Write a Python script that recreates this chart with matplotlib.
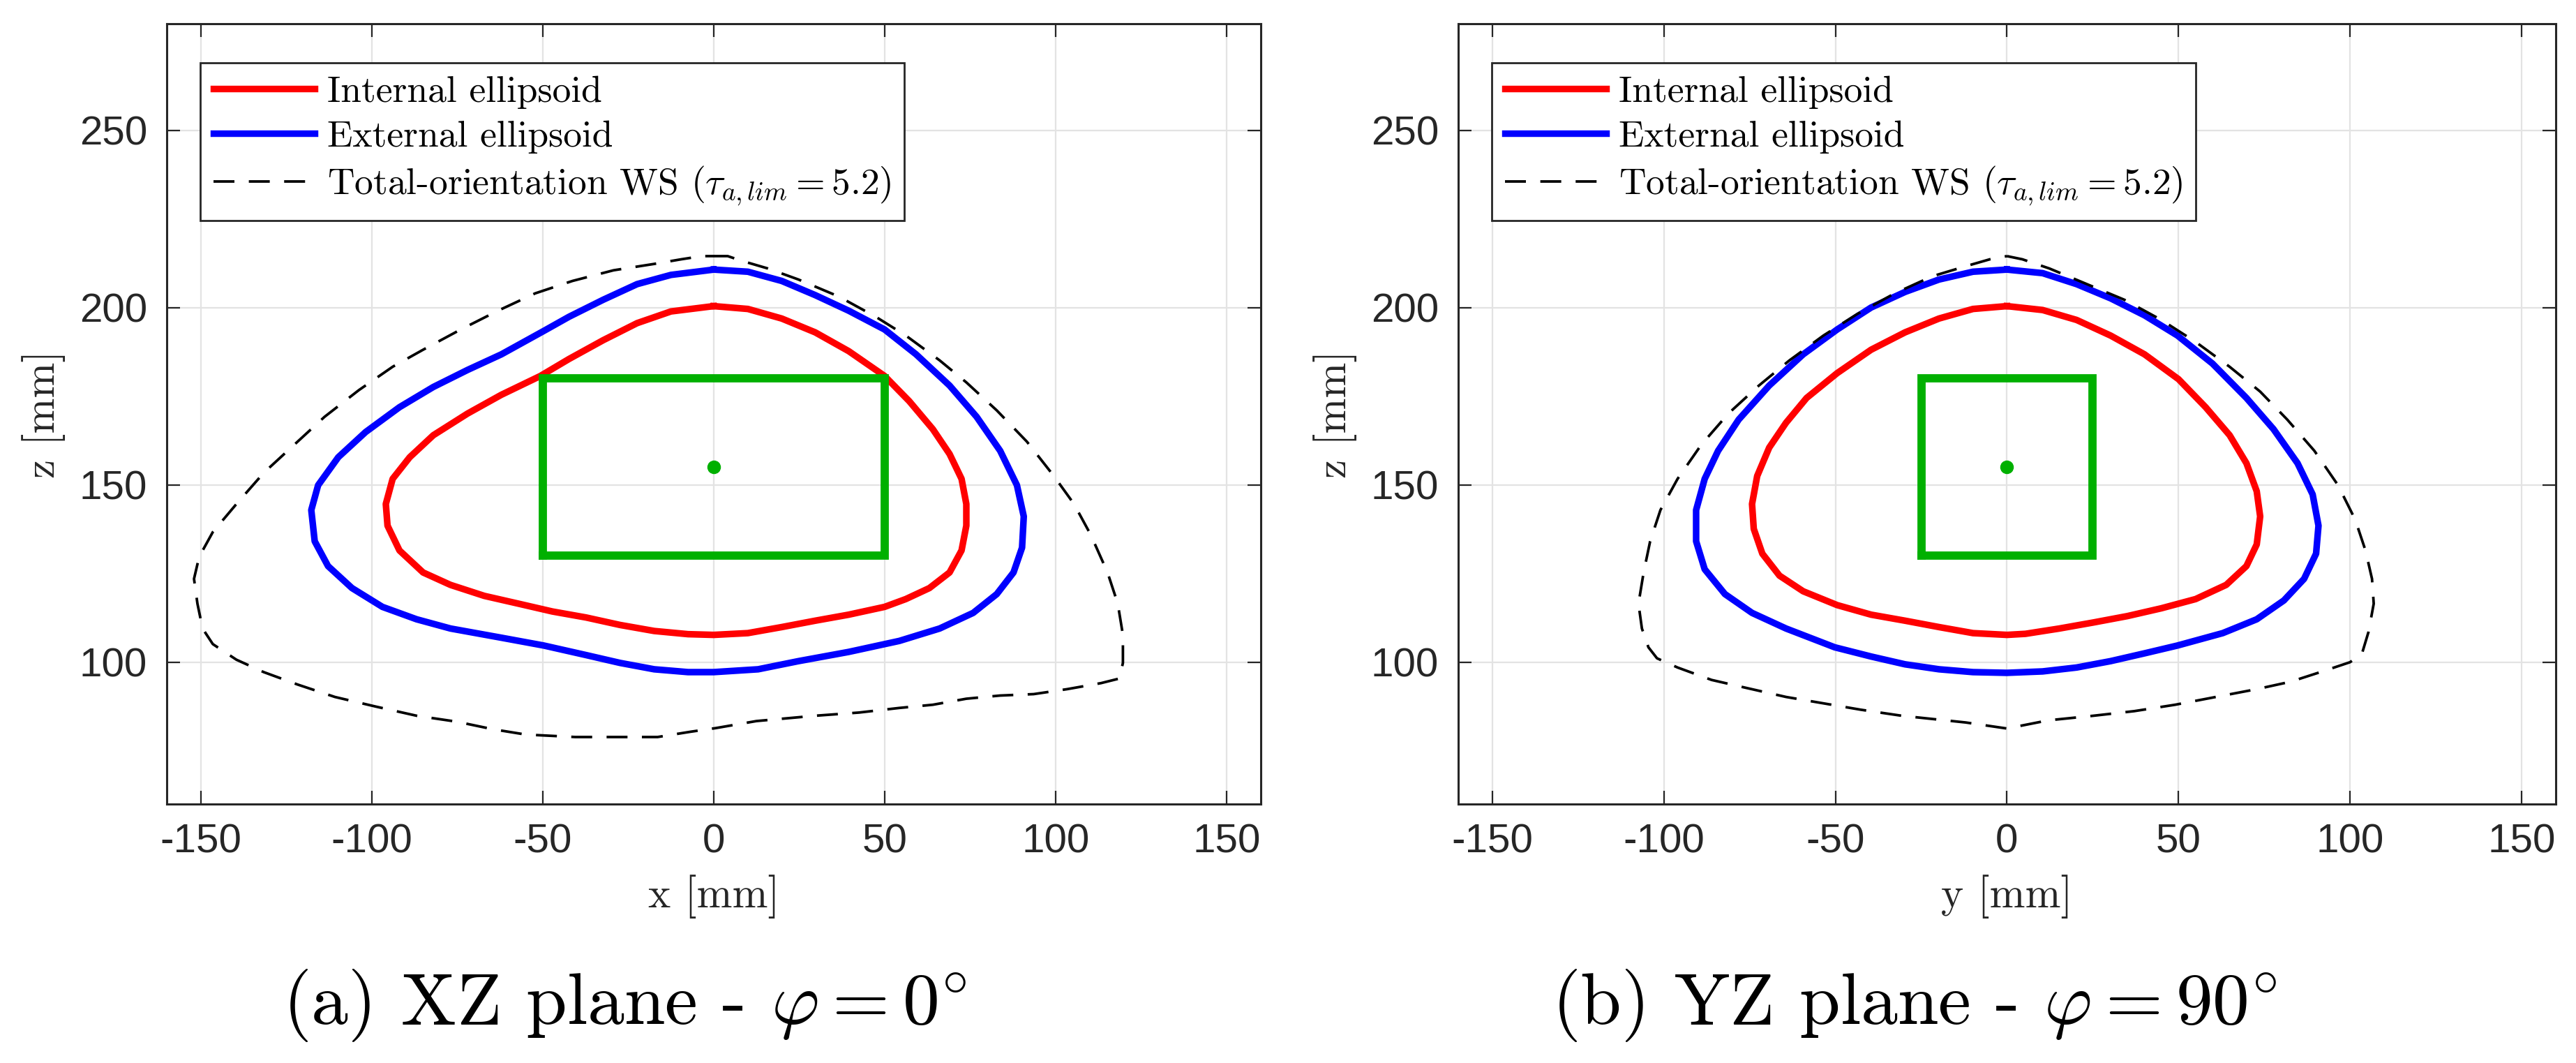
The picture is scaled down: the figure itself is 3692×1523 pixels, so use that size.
import matplotlib
matplotlib.use("Agg")
import matplotlib.pyplot as plt

plt.rcParams["mathtext.fontset"] = "cm"
plt.rcParams["axes.unicode_minus"] = False

# ---- data (mm), each contour traced clockwise from the top ----
# XZ plane, phi = 0 deg
xz_int_x = [0, 10, 19.9, 29.7, 39.5, 50, 57.2, 64.1, 69, 72.5, 73.9, 73.9, 72.5, 69, 63.1, 56.2, 50,
            39.5, 29.7, 19.9, 10, 0, -7.5, -17.4, -27.4, -37.3, -47.2, -57.1, -67.1, -77, -85, -91.9,
            -95.4, -95.9, -93.9, -88.9, -82, -72, -62.1, -50.7, -42.3, -32.3, -22.4, -12.5, 0]
xz_int_z = [200.4, 199.6, 196.9, 193, 187.7, 180.7, 173.6, 165.7, 158.7, 151.7, 144.6, 138.5, 131.5,
            125.3, 120.9, 117.8, 115.6, 113.4, 111.7, 109.9, 108.2, 107.7, 107.9, 108.8, 110.5, 112.6,
            114.3, 116.5, 118.7, 121.8, 125.3, 131.5, 138.5, 144.6, 151.7, 157.8, 164, 170.1, 175.4,
            180.7, 185.5, 190.8, 195.6, 198.9, 200.4]

xz_ext_x = [0, 10, 19.9, 29.7, 39.5, 50, 59.2, 69, 76.9, 83.8, 88.7, 90.7, 90.2, 87.7, 82.8, 75.9, 66.1,
            54.3, 39.5, 24.8, 13, 0, -7.5, -17.4, -27.4, -37.3, -49.7, -62.1, -77, -86.9, -96.9, -105.8,
            -112.8, -116.7, -117.7, -115.7, -109.8, -101.8, -91.9, -82, -72, -62.1, -49.7, -42.3,
            -32.3, -22.4, -12.5, 0]
xz_ext_z = [210.7, 210.1, 207.5, 203.5, 199.1, 193.8, 186.8, 178, 169.2, 159.6, 149.9, 141.1, 132.3,
            125.3, 119.2, 113.9, 109.5, 106, 102.9, 100.3, 98, 97.2, 97.2, 98, 99.8, 102, 104.7, 106.9,
            109.5, 112.1, 115.6, 120.9, 127.1, 134.1, 142.9, 149.9, 157.8, 164.9, 171.9, 177.6, 182.4,
            186.8, 193.4, 197.4, 202.2, 206.6, 209.2, 210.7]

xz_ws_x = [0, 4.1, 8.1, 15.9, 24.8, 36.6, 47.4, 56.2, 66.1, 73.9, 82.8, 91.6, 99.5, 105.4, 110.3,
           115.2, 118.2, 119.7, 119.7, 118.7, 113.3, 103.4, 93.6, 83.8, 73.9, 64.1, 54.3, 42.5, 29.7,
           12.5, 0.5, -6.7, -16.4, -40.5, -55, -64.6, -75, -86.9, -98.9, -110.8, -121.7, -131.6,
           -139.6, -146.5, -149.5, -151, -152, -150.5, -146.5, -139.6, -131.6, -122.7, -113.8, -103.8,
           -93.9, -85, -74, -63.1, -52.2, -41.3, -29.3, -17.4, -9.5, -3.5, 0]
xz_ws_z = [214.5, 214.5, 213.2, 211, 207.9, 203.1, 197.4, 192.1, 185.1, 178.9, 171, 162.2, 152.5, 144.6,
           135.9, 125.3, 116.5, 107.7, 99.8, 95.4, 94.1, 92.4, 91, 90.6, 89.7, 88, 87.1, 85.8, 84.9,
           83.4, 81.4, 80.4, 78.9, 78.9, 79.6, 81.1, 83.2, 84.9, 87.5, 90.2, 93.7, 97.2, 100.7, 105.1,
           109.5, 116.5, 123.5, 129.7, 136.7, 144.6, 153.4, 161.3, 169.2, 176.7, 183.3, 188.1, 193.8,
           199.1, 204, 207.5, 210.5, 212.3, 213.6, 214.5, 214.5]

xz_box_x = [-50, 50, 50, -50, -50]
xz_box_z = [130, 130, 180, 180, 130]

# YZ plane, phi = 90 deg
yz_int_y = [0, 10.4, 20.3, 30.2, 40.1, 50, 57.9, 64.9, 69.8, 72.8, 73.8, 72.8, 69.8, 63.9, 55, 45, 35.1,
            25.2, 15.3, 5.4, 0, -9.9, -19.8, -29.7, -39.6, -49.5, -59.4, -66.3, -71.3, -73.8, -74.3,
            -72.8, -69.3, -64.4, -58.4, -49.5, -39.6, -29.7, -19.8, -9.9, 0]
yz_int_z = [200.4, 199.3, 196.5, 192.1, 186.8, 179.8, 171.9, 164, 156.1, 148.2, 141.1, 133.2, 127.1,
            121.8, 117.8, 115.2, 113, 111.2, 109.5, 108, 107.7, 108.2, 109.9, 111.7, 113.4, 116.1, 120,
            124.4, 130.6, 137.6, 144.6, 152.5, 160.5, 167.5, 174.5, 181.5, 188.1, 193, 196.9, 199.6,
            200.4]

yz_ext_y = [0, 10.4, 20.3, 30.2, 40.1, 49.7, 59.9, 69.8, 77.7, 84.7, 89.1, 90.8, 90.1, 86.6, 80.7, 72.8,
            62.9, 49.7, 40.1, 30.2, 20.3, 10.4, 0, -9.9, -19.8, -29.7, -39.6, -50.2, -64.4, -74.3, -82.2,
            -88.1, -90.6, -90.6, -88.1, -84.2, -78.2, -69.3, -59.4, -49.5, -39.6, -29.7, -19.8, -9.9, 0]
yz_ext_z = [210.7, 209.7, 206.6, 202.6, 197.8, 192.1, 184.2, 174.5, 165.7, 156.1, 147.3, 138.5, 130.6,
            123.5, 117.4, 112.1, 108.2, 104.7, 102.5, 100.3, 98.5, 97.4, 97, 97.2, 98, 99.4, 101.6, 104.2,
            109.5, 113.9, 119.2, 126.2, 134.1, 142.9, 151.7, 159.6, 168.4, 178, 186.8, 193.8, 200,
            204.4, 207.9, 210.1, 210.7]

yz_ws_y = [0, 4.5, 12.4, 23.3, 34.2, 45, 55, 64.9, 73.8, 81.7, 89.6, 96.5, 101.5, 104.5, 106.4, 106.9,
           105.4, 103.5, 100, 92.6, 82.7, 72.8, 60.9, 49, 37.1, 25.2, 12, 0, -12, -30.7, -42.6, -53.5,
           -64.4, -76.2, -86.1, -96, -102, -104.5, -106.4, -107.4, -105.9, -104, -101, -96, -89.1,
           -81.2, -72.3, -63.4, -53.5, -43.6, -32.7, -21.8, -12.9, -5, 0]
yz_ws_z = [214.5, 213.6, 211, 206.6, 202.2, 196.5, 190.3, 183.3, 176.3, 168.4, 159.6, 149.9, 140.2,
           131.5, 123.5, 116.5, 108.6, 102.5, 100, 97.6, 94.5, 92.4, 90.2, 88, 86.2, 84.9, 83.6, 81.3,
           83, 84.9, 86.6, 88.4, 90.2, 92.8, 95, 98.5, 101.1, 104.2, 109.5, 116.5, 125.3, 134.1, 142.9,
           151.7, 161.3, 170.1, 178, 185.1, 192.1, 198.2, 204, 208.8, 211.4, 213.6, 214.5]

yz_box_y = [-25, 25, 25, -25, -25]
yz_box_z = [130, 130, 180, 180, 130]

center = (0, 155)
x_ticks = [-150, -100, -50, 0, 50, 100, 150]
z_ticks = [100, 150, 200, 250]
labels = ["Internal ellipsoid", "External ellipsoid",
          r"Total-orientation WS ($\tau_{a,lim} = 5.2$)"]
captions = [r"(a) XZ plane - $\varphi = 0^{\circ}$", r"(b) YZ plane - $\varphi = 90^{\circ}$"]
xlabels = ["x [mm]", "y [mm]"]

GREEN = "#00b000"
serif = ["cmr10", "DejaVu Serif"]
sans = ["Liberation Sans Narrow", "Liberation Sans", "DejaVu Sans"]

fig = plt.figure(figsize=(36.92, 15.23), dpi=100)
ax1 = fig.add_axes([0.0647, 0.2436, 0.4247, 0.734])
ax2 = fig.add_axes([0.5660, 0.2436, 0.4262, 0.734])

panels = [
    (ax1, xz_int_x, xz_int_z, xz_ext_x, xz_ext_z, xz_ws_x, xz_ws_z, xz_box_x, xz_box_z),
    (ax2, yz_int_y, yz_int_z, yz_ext_y, yz_ext_z, yz_ws_y, yz_ws_z, yz_box_y, yz_box_z),
]

for i, (ax, ix, iz, ex, ez, wx, wz, bx, bz) in enumerate(panels):
    ax.plot(ix, iz, color="red", lw=6.8, label=labels[0], zorder=3)
    ax.plot(ex, ez, color="blue", lw=6.8, label=labels[1], zorder=3)
    ax.plot(wx, wz, color="black", lw=2.7, linestyle=(0, (8, 5.5)), label=labels[2], zorder=3)
    ax.plot(bx, bz, color=GREEN, lw=8.5, zorder=4, solid_joinstyle="miter")
    ax.plot(center[0], center[1], "o", color=GREEN, ms=13, zorder=5)

    ax.set_xlim(-160, 160)
    ax.set_ylim(60, 280)
    ax.set_xticks(x_ticks)
    ax.set_yticks(z_ticks)
    ax.grid(True, color="#e3e3e3", lw=1.6, zorder=0)
    ax.set_axisbelow(True)
    ax.tick_params(direction="in", length=14, width=1.6, top=True, right=True,
                   color="#262626", labelsize=42, pad=20)
    for lab in ax.get_xticklabels() + ax.get_yticklabels():
        lab.set_family(sans)
        lab.set_color("#262626")
    for sp in ax.spines.values():
        sp.set_linewidth(2.2)
        sp.set_color("#262626")

    ax.set_xlabel(xlabels[i], fontsize=44, family=serif, color="#262626", labelpad=14)
    ax.set_ylabel("z [mm]", fontsize=44, family=serif, color="#262626", labelpad=14)

    leg = ax.legend(loc="upper left", bbox_to_anchor=(0.031, 0.950), borderaxespad=0,
                    fancybox=False, framealpha=1, edgecolor="#262626",
                    prop={"family": serif, "size": 38.5}, handlelength=2.7,
                    handletextpad=0.35, labelspacing=0.3, borderpad=0.35)
    leg.get_frame().set_linewidth(2.0)

fig.text(0.2424, 0.037, captions[0], fontsize=76, family=serif, ha="center", va="baseline")
fig.text(0.743, 0.037, captions[1], fontsize=76, family=serif, ha="center", va="baseline")

fig.savefig("out.png", dpi=100)
